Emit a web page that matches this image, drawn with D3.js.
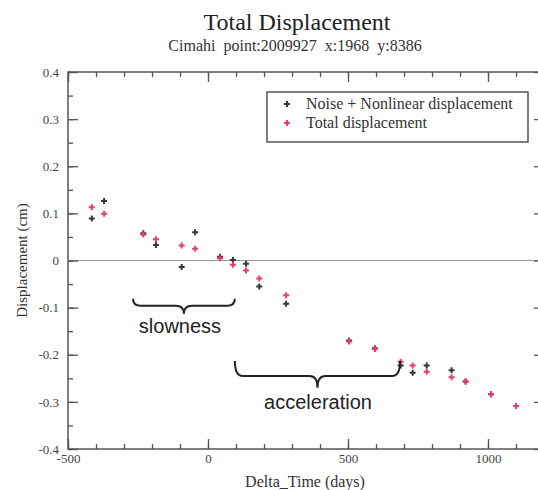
<!DOCTYPE html>
<html><head><meta charset="utf-8">
<script src="https://cdn.jsdelivr.net/npm/d3@7"></script>
<style>body{margin:0;background:#fff}</style>
</head><body>
<svg id="c" width="538" height="490"></svg>
<script>
// ---- data ----
const days = [-415,-371,-231,-186,-94,-46,43,89,136,183,279,504,596,688,731,781,870,920,1011,1100];
const noiseNonlinear = [0.089,0.126,0.058,0.033,-0.014,0.060,0.008,0.001,-0.007,-0.055,-0.092,-0.170,-0.186,-0.223,-0.238,-0.223,-0.233,-0.257,-0.284,-0.309];
const totalDisp = [0.113,0.099,0.055,0.045,0.032,0.025,0.005,-0.009,-0.021,-0.038,-0.074,-0.172,-0.188,-0.215,-0.223,-0.236,-0.248,-0.257,-0.284,-0.309];
const xTickValues = [-500,0,500,1000];
const xTickLabels = ["-500","0","500","1000"];
const yTickValues = [-0.4,-0.3,-0.2,-0.1,0,0.1,0.2,0.3,0.4];
const yTickLabels = ["-0.4","-0.3","-0.2","-0.1","0","0.1","0.2","0.3","0.4"];
const seriesNames = ["Noise + Nonlinear displacement","Total displacement"];
const seriesColors = ["#2f3b35","#ee3a70"];
// annotations in data coordinates: [x1, x2, yEnds, yMid, yTip]
const braceSlow = [-268, 96, -0.081, -0.096, -0.113];
const braceAcc = [96, 686, -0.213, -0.245, -0.270];

const svg = d3.select("#c");
const L = 68, R = 544, T = 72, B = 449;
const x = d3.scaleLinear().domain([-500,1200]).range([L,R]);
const y = d3.scaleLinear().domain([-0.4,0.4]).range([B,T]);
const serif = "'Liberation Serif','Times New Roman',serif";
const sans = "'Liberation Sans',Arial,sans-serif";
const axisCol = "#555";

// zero line
svg.append("line").attr("x1",L).attr("x2",R).attr("y1",y(0)).attr("y2",y(0))
  .attr("stroke","#9a9a9a").attr("stroke-width",1.2);

function styleAxis(g){
  g.select(".domain").remove();
  g.selectAll(".tick line").attr("stroke",axisCol).attr("stroke-width",1.3);
  g.selectAll(".tick text").attr("font-family",serif).attr("font-size",13).attr("fill","#444");
}
// minor ticks
const xMinor = x.ticks(17), yMinor = y.ticks(16);
svg.append("g").attr("transform",`translate(0,${B})`).call(d3.axisBottom(x).tickValues(xMinor).tickSize(-5).tickFormat("")).call(styleAxis);
svg.append("g").attr("transform",`translate(0,${T})`).call(d3.axisTop(x).tickValues(xMinor).tickSize(-5).tickFormat("")).call(styleAxis);
svg.append("g").attr("transform",`translate(${L},0)`).call(d3.axisLeft(y).tickValues(yMinor).tickSize(-5).tickFormat("")).call(styleAxis);
svg.append("g").attr("transform",`translate(${R},0)`).call(d3.axisRight(y).tickValues(yMinor).tickSize(-5).tickFormat("")).call(styleAxis);
// major ticks
svg.append("g").attr("transform",`translate(0,${B})`)
  .call(d3.axisBottom(x).tickValues(xTickValues).tickSize(-10).tickPadding(6).tickFormat((d,i)=>xTickLabels[i])).call(styleAxis)
  .selectAll(".tick text").attr("dy","0.71em").attr("y",5);
svg.append("g").attr("transform",`translate(0,${T})`).call(d3.axisTop(x).tickValues(xTickValues).tickSize(-10).tickFormat("")).call(styleAxis);
svg.append("g").attr("transform",`translate(${L},0)`)
  .call(d3.axisLeft(y).tickValues(yTickValues).tickSize(-10).tickFormat((d,i)=>yTickLabels[i])).call(styleAxis)
  .selectAll(".tick text").attr("x",-9);
svg.append("g").attr("transform",`translate(${R},0)`).call(d3.axisRight(y).tickValues(yTickValues).tickSize(-10).tickFormat("")).call(styleAxis);
// frame
svg.append("rect").attr("x",L).attr("y",T).attr("width",R-L).attr("height",B-T)
  .attr("fill","none").attr("stroke",axisCol).attr("stroke-width",1.5);

// markers
function plus(g, cx, cy, col){
  g.append("path").attr("d",`M${cx-3},${cy}H${cx+3}M${cx},${cy-3}V${cy+3}`)
   .attr("stroke",col).attr("stroke-width",2).attr("fill","none");
}
const gPts = svg.append("g");
[noiseNonlinear,totalDisp].forEach((vals,si)=>{
  vals.forEach((v,i)=>plus(gPts, x(days[i]), y(v), seriesColors[si]));
});

// braces
function brace(b){
  const x1=x(b[0]), x2=x(b[1]), ye=y(b[2]), ym=y(b[3]), yt=y(b[4]);
  const cx=(x1+x2)/2, r=8;
  return `M${x1},${ye}Q${x1},${ym} ${x1+r},${ym}L${cx-r},${ym}Q${cx},${ym} ${cx},${yt}Q${cx},${ym} ${cx+r},${ym}L${x2-r},${ym}Q${x2},${ym} ${x2},${ye}`;
}
[braceSlow,braceAcc].forEach(b=>{
  svg.append("path").attr("d",brace(b)).attr("fill","none").attr("stroke","#222").attr("stroke-width",2);
});
svg.append("text").attr("x",x(-100)).attr("y",y(-0.153)).attr("text-anchor","middle")
  .attr("font-family",sans).attr("font-size",20).attr("fill","#222").text("slowness");
svg.append("text").attr("x",x(393)).attr("y",y(-0.315)).attr("text-anchor","middle")
  .attr("font-family",sans).attr("font-size",20).attr("fill","#222").text("acceleration");

// legend
const lg = svg.append("g");
lg.append("rect").attr("x",267).attr("y",92).attr("width",261).attr("height",50)
  .attr("fill","#fff").attr("stroke",axisCol).attr("stroke-width",1.5);
seriesNames.forEach((n,i)=>{
  plus(lg, 287, 104+i*19, seriesColors[i]);
  lg.append("text").attr("x",306).attr("y",109+i*19).attr("font-family",serif)
    .attr("font-size",16).attr("fill","#333").text(n);
});

// titles
svg.append("text").attr("x",297).attr("y",30).attr("text-anchor","middle")
  .attr("font-family",serif).attr("font-size",24).attr("fill","#222").text("Total Displacement");
svg.append("text").attr("x",295).attr("y",51).attr("text-anchor","middle")
  .attr("font-family",serif).attr("font-size",16).attr("fill","#333").attr("xml:space","preserve")
  .text("Cimahi  point:2009927  x:1968  y:8386");
svg.append("text").attr("x",305).attr("y",487).attr("text-anchor","middle")
  .attr("font-family",serif).attr("font-size",16).attr("fill","#333").text("Delta_Time (days)");
svg.append("text").attr("transform",`translate(27,${y(0)}) rotate(-90)`).attr("text-anchor","middle")
  .attr("font-family",serif).attr("font-size",15).attr("fill","#333").text("Displacement (cm)");
</script>
</body></html>
